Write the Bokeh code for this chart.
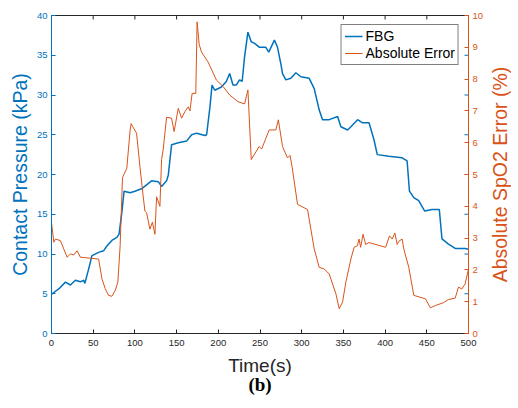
import numpy as np
from bokeh.plotting import figure
from bokeh.layouts import row
from bokeh.models import Range1d, LinearAxis, Legend, LegendItem, FixedTicker
from bokeh.embed import file_html
from bokeh.resources import INLINE

# ---- data ----
fbg_t = [0, 0.8, 8.7, 16.7, 22.7, 28.6, 34.6, 38.6, 40, 44.5,
         48.5, 56.5, 62.4, 66.4, 72.4, 78.4, 81, 84.3, 87, 94.3,
         100, 108, 120, 128, 132, 138, 140, 144, 152, 162,
         168, 174, 184, 186, 190, 192.5, 195.7, 203.7, 209.6, 213.6,
         217.6, 221.5, 225.5, 228.6, 231.5, 235.5, 239.5, 243.5, 249.4, 257,
         260.5, 267.3, 271, 275.3, 277, 281, 287, 293, 299, 309,
         315, 321, 325, 333, 343, 347, 355, 359, 367, 373,
         380.7, 386.6, 390.6, 404.5, 420.4, 426.4, 429.2, 434.4, 440.3, 447.5,
         456.2, 465, 468.2, 476, 484, 496, 500]
fbg_kpa = [4.9, 5.0, 5.6, 6.46, 6.1, 6.7, 6.5, 6.7, 6.3, 8.1,
           9.8, 10.2, 10.4, 11.0, 11.7, 12.1, 12.5, 15.2, 17.9, 17.7,
           17.9, 18.2, 19.2, 19.1, 18.5, 19.2, 19.9, 23.75, 24.0, 24.2,
           25.0, 25.2, 24.9, 25.0, 28.5, 31.25, 30.6, 31.0, 31.7, 32.7,
           31.25, 31.25, 31.9, 31.7, 34.8, 37.9, 36.7, 36.5, 36.0, 36.0,
           35.4, 36.9, 36.0, 33.75, 32.7, 31.9, 32.1, 32.8, 32.3, 32.1,
           30.8, 28.1, 26.9, 26.9, 27.3, 26.0, 25.6, 26.0, 26.9, 26.5,
           26.5, 24.4, 22.5, 22.3, 22.1, 21.7, 17.9, 17.1, 16.7, 15.4,
           15.6, 15.6, 11.9, 11.25, 10.7, 10.7, 10.6]

err_t = [0, 2.8, 4.8, 10.7, 14.7, 18.7, 22.7, 26.7, 30.7, 34.6,
         56.5, 60.5, 64.4, 68.4, 72.4, 76.4, 79.6, 82.3, 85.1, 90.3,
         94.3, 95.5, 97.5, 102, 106, 110, 112, 114, 118, 121,
         124, 126, 130, 132, 134, 138, 144, 147, 152, 156,
         160, 164, 166, 168.6, 173, 174.6, 177, 179.8, 187.7, 197.7,
         205.6, 213.6, 223.5, 231.5, 235.5, 239.5, 249, 252, 261, 269,
         272, 277, 283, 286, 288.4, 295, 307, 315, 321, 327,
         333, 341, 345, 349, 353, 359, 362.8, 366.8, 368.7, 370.7,
         373.5, 376.7, 380.7, 400.6, 405.3, 408.5, 411.7, 414.5, 416.5, 420.4,
         422.4, 428.4, 434.4, 448.3, 454.3, 460.3, 470, 476, 484, 488,
         492, 496, 500]
err_pct = [3.49, 2.87, 2.97, 2.92, 2.66, 2.4, 2.5, 2.47, 2.6, 2.4,
           2.34, 1.72, 1.41, 1.2, 1.17, 1.35, 1.62, 2.76, 4.9, 5.2,
           6.4, 6.6, 6.5, 6.3, 5.26, 4.3, 3.85, 3.8, 3.28, 3.5,
           3.12, 4.3, 4.0, 5.47, 5.8, 6.8, 6.77, 6.35, 7.08, 6.77,
           6.98, 7.13, 7.0, 7.55, 7.55, 9.8, 9.1, 8.85, 8.54, 7.97,
           7.77, 7.5, 7.29, 7.22, 7.66, 5.47, 5.88, 5.8, 6.4, 6.4,
           6.72, 5.88, 5.52, 5.6, 5.26, 4.06, 3.9, 2.66, 2.08, 2.03,
           1.87, 1.25, 0.78, 0.99, 1.62, 2.34, 2.71, 2.76, 2.97, 2.71,
           3.12, 2.8, 2.86, 2.71, 3.07, 2.97, 3.16, 2.8, 2.9, 2.97,
           2.66, 2.08, 1.2, 1.09, 0.81, 0.88, 0.97, 1.07, 1.11, 1.46,
           1.4, 1.56, 2.03]

x_ticks = [0, 50, 100, 150, 200, 250, 300, 350, 400, 450, 500]
left_ticks = [0, 5, 10, 15, 20, 25, 30, 35, 40]
right_ticks = [0, 1, 2, 3, 4, 5, 6, 7, 8, 9, 10]

assert len(fbg_t) == len(fbg_kpa)
assert len(err_t) == len(err_pct)

BLUE = "#0072BD"
ORANGE = "#D95319"
DARK = "#262626"
FONT = "Liberation Sans"

TOP, BOTTOM = 15, 65

p = figure(width=486, height=400, output_backend="svg", toolbar_location=None,
           x_range=Range1d(0, 500), y_range=Range1d(0, 40),
           min_border_left=51, min_border_right=0, min_border_top=TOP, min_border_bottom=BOTTOM)
p.extra_y_ranges = {"err": Range1d(0, 10)}
p.outline_line_color = DARK
p.outline_line_width = 1
p.grid.visible = False
p.background_fill_color = "white"
p.border_fill_color = "white"

r1 = p.line(fbg_t, fbg_kpa, line_color=BLUE, line_width=1.5)
r2 = p.line(err_t, err_pct, line_color=ORANGE, line_width=1.0, y_range_name="err")

# left-axis tick marks mirrored on right side
p.ray(x=[p.x_range.end] * len(left_ticks), y=left_ticks, length=4, length_units="screen",
      angle=np.pi, line_color=BLUE, line_width=1)
# top box tick marks
p.ray(x=x_ticks, y=[p.y_range.end] * len(x_ticks), length=4, length_units="screen",
      angle=-np.pi / 2, line_color=DARK, line_width=1)


def style_axis(ax, color, label_color, label_size="19.5px"):
    ax.axis_line_color = color
    ax.major_tick_line_color = color
    ax.major_tick_in = 4
    ax.major_tick_out = 0
    ax.minor_tick_line_color = None
    ax.major_label_text_color = label_color
    ax.major_label_text_font = FONT
    ax.major_label_text_font_size = "9.5px"
    ax.axis_label_text_font = FONT
    ax.axis_label_text_font_size = label_size
    ax.axis_label_text_font_style = "normal"
    ax.axis_label_text_color = label_color


def title_axis(ax, standoff):
    ax.ticker = FixedTicker(ticks=[])
    ax.axis_line_color = None
    ax.major_tick_line_color = None
    ax.minor_tick_line_color = None
    ax.major_tick_in = 0
    ax.major_tick_out = 0
    ax.major_label_standoff = 0
    ax.axis_label_standoff = standoff


xa = p.xaxis[0]
style_axis(xa, DARK, DARK, "19px")
xa.ticker = FixedTicker(ticks=x_ticks)
xa.axis_label = "Time(s)"
xa.major_label_standoff = 6
xa.axis_label_standoff = 6

ya = p.yaxis[0]
style_axis(ya, BLUE, BLUE)
ya.ticker = FixedTicker(ticks=left_ticks)
ya.axis_label = "Contact Pressure (kPa)"
ya.major_label_standoff = 4
ya.axis_label_standoff = 3

yr = LinearAxis(y_range_name="err", ticker=FixedTicker(ticks=right_ticks))
style_axis(yr, ORANGE, ORANGE)
yr.major_label_standoff = 4
p.add_layout(yr, "right")

# outer bottom axis carrying only the panel caption
cap = LinearAxis(axis_label="(b)")
title_axis(cap, -5)
cap.axis_label_text_font = "Liberation Serif"
cap.axis_label_text_font_style = "bold"
cap.axis_label_text_font_size = "19px"
cap.axis_label_text_color = "black"
p.add_layout(cap, "below")

legend = Legend(items=[LegendItem(label="FBG", renderers=[r1]),
                       LegendItem(label="Absolute Error", renderers=[r2])],
                location="top_right")
legend.margin = 9
legend.padding = 3
legend.spacing = 1
legend.glyph_width = 18
legend.glyph_height = 16
legend.label_height = 16
legend.label_standoff = 3
legend.label_text_font = FONT
legend.label_text_font_size = "14px"
legend.label_text_color = "black"
legend.border_line_color = "black"
legend.border_line_width = 1
legend.background_fill_color = "white"
legend.background_fill_alpha = 1
p.add_layout(legend)

# narrow strip holding the right-hand axis title (reads bottom-to-top)
q = figure(width=24, height=400, output_backend="svg", toolbar_location=None,
           x_range=Range1d(0, 1), y_range=Range1d(0, 10),
           min_border_left=23, min_border_right=0, min_border_top=TOP, min_border_bottom=BOTTOM + 2)
q.xaxis.visible = False
q.grid.visible = False
q.outline_line_color = None
q.border_fill_color = "white"
qa = q.yaxis[0]
style_axis(qa, ORANGE, ORANGE)
title_axis(qa, 0)
qa.axis_label = "Absolute SpO2 Error (%)"

layout = row(p, q, spacing=0)
open("out.html", "w").write(file_html(layout, INLINE))
